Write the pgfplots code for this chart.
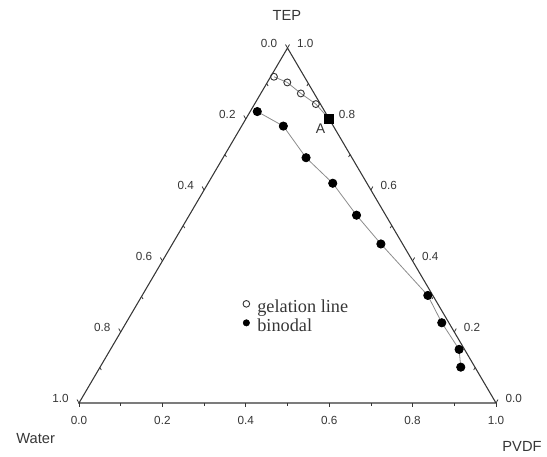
\documentclass[border=0pt]{standalone}
\usepackage{pgfplots}
\usepackage{pgfplotstable}
\pgfplotsset{compat=1.18}
\usepackage{fontspec}
\setmainfont{Liberation Sans}
\newfontfamily\serifont{Liberation Serif}
\definecolor{axgray}{HTML}{363636}
\definecolor{lngray}{HTML}{8C8C8C}

% ternary fractions: PVDF and TEP (Water = 1 - PVDF - TEP)
\pgfplotstableread{
pvdf tep
0.008 0.919
0.048 0.903
0.096 0.872
0.147 0.842
0.200 0.800
}\gel
\pgfplotstableread{
pvdf tep
0.017 0.821
0.100 0.780
0.199 0.691
0.299 0.619
0.401 0.529
0.500 0.448
0.685 0.303
0.757 0.226
0.836 0.151
0.865 0.101
}\bin

\begin{document}
\begin{tikzpicture}
\useasboundingbox (0,0) rectangle (410.25pt,342.75pt);
\begin{axis}[
  at={(59.25pt,40.5pt)}, anchor=south west,
  scale only axis, width=312.75pt, height=266.25pt,
  xmin=0, xmax=1, ymin=0, ymax=1,
  hide axis, clip=false,
  legend style={at={(axis cs:0.3916,0.2915)}, anchor=north west,
    draw=none, fill=none, inner sep=0pt, row sep=1.75pt,
    font=\fontsize{13.7}{14}\serifont\color{axgray},
    nodes={inner sep=0pt, text height=9.5pt, text depth=3pt},
    /tikz/every odd column/.append style={column sep=5.4pt}},
  legend cell align=left,
]
% triangle frame
\draw[axgray, line width=0.8pt] (axis cs:0,0) -- (axis cs:1,0) -- (axis cs:0.5,1) -- cycle;
% left axis (Water)
\pgfplotsinvokeforeach{0.0,0.2,0.4,0.6,0.8,1.0}{
  \draw[axgray, line width=0.6pt] (axis cs:{(1-#1)/2},{1-#1}) -- ++(-1.5pt,2.6pt);
  \path (axis cs:{(1-#1)/2},{1-#1}) ++(-7.5pt,3.75pt) node[anchor=east, inner sep=0pt, font=\fontsize{8.8}{10}\selectfont, text=axgray]{#1};
}
\pgfplotsinvokeforeach{0.1,0.3,0.5,0.7,0.9}{
  \draw[axgray, line width=0.6pt] (axis cs:{(1-#1)/2},{1-#1}) -- ++(1.1pt,-1.9pt);
}
% right axis (TEP)
\pgfplotsinvokeforeach{0.0,0.2,0.4,0.6,0.8,1.0}{
  \draw[axgray, line width=0.6pt] (axis cs:{1-#1/2},{#1}) -- ++(1.5pt,2.6pt);
  \path (axis cs:{1-#1/2},{#1}) ++(7pt,3.75pt) node[anchor=west, inner sep=0pt, font=\fontsize{8.8}{10}\selectfont, text=axgray]{#1};
}
\pgfplotsinvokeforeach{0.1,0.3,0.5,0.7,0.9}{
  \draw[axgray, line width=0.6pt] (axis cs:{1-#1/2},{#1}) -- ++(-1.1pt,-1.9pt);
}
% bottom axis (PVDF)
\pgfplotsinvokeforeach{0.0,0.2,0.4,0.6,0.8,1.0}{
  \draw[axgray, line width=0.6pt] (axis cs:#1,0) -- ++(0,-3pt);
  \path (axis cs:#1,0) ++(0,-10pt) node[anchor=north, inner sep=0pt, font=\fontsize{8.8}{10}\selectfont, text=axgray]{#1};
}
\pgfplotsinvokeforeach{0.1,0.3,0.5,0.7,0.9}{
  \draw[axgray, line width=0.6pt] (axis cs:#1,0) -- ++(0,-2.2pt);
}
% vertex labels
\node[font=\fontsize{11}{13}\selectfont, text=axgray] at (axis cs:0.4988,1.092) {TEP};
\node[font=\fontsize{11}{13}\selectfont, text=axgray] at (axis cs:-0.104,-0.0997) {Water};
\node[font=\fontsize{11}{13}\selectfont, text=axgray] at (axis cs:1.0624,-0.123) {PVDF};
\node[font=\fontsize{10.5}{12}\selectfont, text=axgray] at (axis cs:0.579,0.772) {A};

% gelation line
\addplot[forget plot, color=lngray, line width=0.6pt, mark=o, mark size=2.6pt,
  mark indices={1,2,3,4}, mark options={draw=axgray, fill=white, line width=0.7pt}]
  table[x expr=\thisrow{pvdf}+0.5*\thisrow{tep}, y=tep] {\gel};
\addplot[forget plot, only marks, mark=square*, mark size=3.4pt, mark indices={5}, black]
  table[x expr=\thisrow{pvdf}+0.5*\thisrow{tep}, y=tep] {\gel};
% binodal
\addplot[forget plot, color=lngray, line width=0.6pt, mark=*, mark size=3.1pt,
  mark options={draw=black, fill=black}]
  table[x expr=\thisrow{pvdf}+0.5*\thisrow{tep}, y=tep] {\bin};

\addlegendimage{legend image code/.code={\draw[axgray, line width=0.7pt] (0,3.2pt) circle (2.5pt);}}
\addlegendentry{gelation line}
\addlegendimage{legend image code/.code={\fill[black] (0,3.2pt) circle (2.4pt);}}
\addlegendentry{binodal}
\end{axis}
\end{tikzpicture}
\end{document}
